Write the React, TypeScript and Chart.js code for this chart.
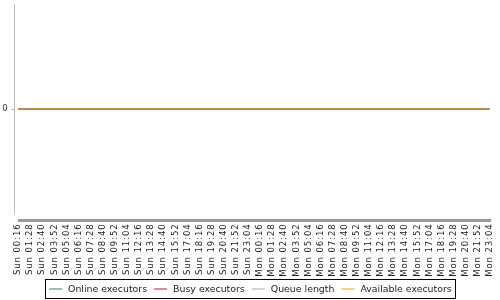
import React, { useEffect, useRef } from "react";
import { Chart, registerables } from "chart.js";

Chart.register(...registerables);

const categories: string[] = [
  "Sun 00:16", "Sun 01:28", "Sun 02:40", "Sun 03:52", "Sun 05:04",
  "Sun 06:16", "Sun 07:28", "Sun 08:40", "Sun 09:52", "Sun 11:04",
  "Sun 12:16", "Sun 13:28", "Sun 14:40", "Sun 15:52", "Sun 17:04",
  "Sun 18:16", "Sun 19:28", "Sun 20:40", "Sun 21:52", "Sun 23:04",
  "Mon 00:16", "Mon 01:28", "Mon 02:40", "Mon 03:52", "Mon 05:04",
  "Mon 06:16", "Mon 07:28", "Mon 08:40", "Mon 09:52", "Mon 11:04",
  "Mon 12:16", "Mon 13:28", "Mon 14:40", "Mon 15:52", "Mon 17:04",
  "Mon 18:16", "Mon 19:28", "Mon 20:40", "Mon 21:52", "Mon 23:04",
];

const onlineExecutors: number[] = [
  0, 0, 0, 0, 0, 0, 0, 0, 0, 0, 0, 0, 0, 0, 0, 0, 0, 0, 0, 0,
  0, 0, 0, 0, 0, 0, 0, 0, 0, 0, 0, 0, 0, 0, 0, 0, 0, 0, 0, 0,
];
const busyExecutors: number[] = [
  0, 0, 0, 0, 0, 0, 0, 0, 0, 0, 0, 0, 0, 0, 0, 0, 0, 0, 0, 0,
  0, 0, 0, 0, 0, 0, 0, 0, 0, 0, 0, 0, 0, 0, 0, 0, 0, 0, 0, 0,
];
const queueLength: number[] = [
  0, 0, 0, 0, 0, 0, 0, 0, 0, 0, 0, 0, 0, 0, 0, 0, 0, 0, 0, 0,
  0, 0, 0, 0, 0, 0, 0, 0, 0, 0, 0, 0, 0, 0, 0, 0, 0, 0, 0, 0,
];
const availableExecutors: number[] = [
  0, 0, 0, 0, 0, 0, 0, 0, 0, 0, 0, 0, 0, 0, 0, 0, 0, 0, 0, 0,
  0, 0, 0, 0, 0, 0, 0, 0, 0, 0, 0, 0, 0, 0, 0, 0, 0, 0, 0, 0,
];

const seriesNames: string[] = ["Online executors", "Busy executors", "Queue length", "Available executors"];
const legendColors: string[] = ["#6fb890", "#e06464", "#c4c4c4", "#ffbe5a"];
const lineColors: string[] = ["#5fae82", "#d85a5a", "#b8b8b8", "#c27a28"];
const yTicks: number[] = [0];

const FONT = "'DejaVu Sans', sans-serif";

const spacingPlugin = {
  id: "labelSpacing",
  beforeDraw(chart: any) {
    (chart.ctx as any).letterSpacing = "0.9px";
  },
  beforeDatasetsDraw(chart: any) {
    (chart.ctx as any).letterSpacing = "0px";
  },
};

const axesPlugin = {
  id: "jfreeAxes",
  afterDraw(chart: any) {
    const ctx = chart.ctx as CanvasRenderingContext2D;
    (ctx as any).letterSpacing = "0px";
    const area = chart.chartArea;
    const y = chart.scales.y;
    ctx.save();
    // y axis line (offset from plot like JFreeChart)
    ctx.strokeStyle = "#bdbdbd";
    ctx.lineWidth = 1;
    ctx.beginPath();
    ctx.moveTo(area.left - 3.5, area.top);
    ctx.lineTo(area.left - 3.5, area.bottom);
    for (const t of yTicks) {
      const py = Math.round(y.getPixelForValue(t)) + 0.5;
      ctx.moveTo(area.left - 7, py);
      ctx.lineTo(area.left - 3.5, py);
    }
    ctx.stroke();
    // thick category axis line
    ctx.fillStyle = "#9a9a9a";
    ctx.fillRect(area.left, area.bottom + 5, area.right - area.left + 1, 3);

    // legend
    ctx.font = "9.4px " + FONT;
    const lineLen = 13;
    const gapAfterLine = 6;
    const gapBetween = 7;
    const padL = 3.5;
    const padR = 4;
    const widths = seriesNames.map((n) => ctx.measureText(n).width);
    let total = padL + padR;
    widths.forEach((w, i) => {
      total += lineLen + gapAfterLine + w + (i > 0 ? gapBetween : 0);
    });
    const boxLeft = Math.round(chart.width / 2 - total / 2) + 0.5;
    const boxTop = 279.5;
    const boxH = 19;
    ctx.strokeStyle = "#000";
    ctx.lineWidth = 1;
    ctx.strokeRect(boxLeft, boxTop, Math.round(total), boxH);
    let x = boxLeft + padL;
    const cy = boxTop + boxH / 2;
    ctx.textBaseline = "middle";
    ctx.textAlign = "left";
    seriesNames.forEach((n, i) => {
      if (i > 0) x += gapBetween;
      ctx.strokeStyle = legendColors[i];
      ctx.lineWidth = 1.5;
      ctx.beginPath();
      ctx.moveTo(x, cy);
      ctx.lineTo(x + lineLen, cy);
      ctx.stroke();
      x += lineLen + gapAfterLine;
      ctx.fillStyle = "#222";
      ctx.fillText(n, x, cy + 0.5);
      x += widths[i];
    });
    ctx.restore();
  },
};

export default function App() {
  const ref = useRef<HTMLCanvasElement | null>(null);

  useEffect(() => {
    if (!ref.current) return;
    const seriesData = [onlineExecutors, busyExecutors, queueLength, availableExecutors];
    const chart = new Chart(ref.current, {
      type: "line",
      data: {
        labels: categories,
        datasets: seriesNames.map((name, i) => ({
          label: name,
          data: seriesData[i],
          borderColor: lineColors[i],
          backgroundColor: lineColors[i],
          borderWidth: 1.5,
          pointRadius: 0,
          tension: 0,
          order: seriesNames.length - 1 - i,
        })),
      },
      options: {
        animation: false,
        responsive: false,
        devicePixelRatio: 1,
        layout: { padding: { left: 0, top: 4, right: 10, bottom: 0 } },
        plugins: {
          legend: { display: false },
          tooltip: { enabled: false },
        },
        scales: {
          x: {
            type: "category",
            offset: false,
            grid: {
              display: true,
              drawOnChartArea: false,
              drawTicks: true,
              tickLength: 9.5,
              tickColor: "rgba(0,0,0,0)",
            },
            border: { display: false },
            ticks: {
              autoSkip: false,
              minRotation: 90,
              maxRotation: 90,
              padding: 0,
              color: "#222",
              font: { family: FONT, size: 8.5, lineHeight: 1.15 },
            },
            afterFit: (scale: any) => {
              scale.height = 86;
            },
          },
          y: {
            min: -1,
            max: 1,
            grid: {
              display: true,
              drawOnChartArea: false,
              drawTicks: true,
              tickLength: 9.5,
              tickColor: "rgba(0,0,0,0)",
            },
            border: { display: false },
            afterBuildTicks: (scale: any) => {
              scale.ticks = yTicks.map((v) => ({ value: v }));
            },
            ticks: {
              autoSkip: false,
              padding: 0,
              color: "#333",
              font: { family: FONT, size: 8.5, lineHeight: 0.8 },
            },
            afterFit: (scale: any) => {
              scale.width = 18;
            },
          },
        },
      },
      plugins: [spacingPlugin, axesPlugin],
    });
    return () => chart.destroy();
  }, []);

  return (
    <div style={{ position: "absolute", left: 0, top: 0, width: 500, height: 300, background: "#fff" }}>
      <canvas ref={ref} width={500} height={300} style={{ display: "block" }} />
    </div>
  );
}
